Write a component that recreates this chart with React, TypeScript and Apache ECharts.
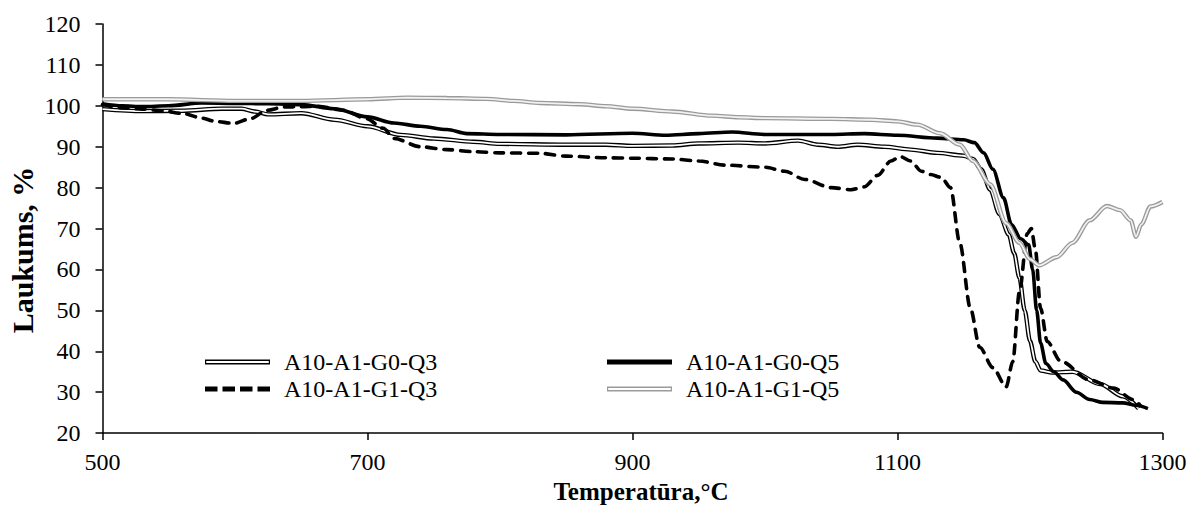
import React, { useEffect, useRef } from "react";
import * as echarts from "echarts";

const xTicks = [500, 700, 900, 1100, 1300];
const yTicks = [20, 30, 40, 50, 60, 70, 80, 90, 100, 110, 120];

const seriesNames = ["A10-A1-G0-Q3", "A10-A1-G0-Q5", "A10-A1-G1-Q3", "A10-A1-G1-Q5"];

const tG0Q3 = [500, 530, 560, 590, 605, 615, 625, 650, 675, 700, 725, 750, 780, 800, 850, 880, 900, 930, 950, 980, 1000, 1025, 1040, 1055, 1070, 1090, 1110, 1130, 1150, 1157, 1163, 1170, 1177, 1184, 1188, 1192, 1196, 1200, 1204, 1208, 1217, 1232, 1253, 1270, 1282];
const vG0Q3 = [99.2, 98.7, 98.8, 99.3, 99.3, 98.6, 97.9, 98.2, 96.6, 95.0, 92.9, 92.0, 91.2, 90.7, 90.5, 90.5, 90.2, 90.3, 90.8, 91.0, 90.8, 91.5, 90.5, 90.0, 90.5, 90.0, 89.3, 88.5, 87.8, 87.0, 84.5, 79.5, 73.5, 68.5, 64.0, 58.0, 50.0, 42.5, 37.5, 35.3, 34.8, 35.0, 32.0, 29.0, 26.0];

const tG0Q5 = [500, 515, 530, 550, 575, 600, 625, 650, 675, 700, 720, 740, 760, 775, 800, 850, 900, 925, 950, 975, 1000, 1050, 1075, 1100, 1130, 1150, 1158, 1165, 1172, 1180, 1186, 1193, 1199, 1202, 1205, 1208, 1212, 1218, 1225, 1235, 1245, 1255, 1270, 1280, 1289];
const vG0Q5 = [100.5, 100.0, 99.8, 100.0, 100.7, 100.6, 100.5, 100.3, 99.3, 97.3, 95.8, 95.0, 94.2, 93.2, 93.0, 92.9, 93.3, 92.8, 93.2, 93.6, 93.0, 93.0, 93.2, 92.8, 92.1, 91.7, 91.0, 88.5, 84.5, 77.5, 71.0, 67.5, 66.0, 60.0, 50.0, 42.0, 37.0, 35.0, 33.0, 30.0, 28.2, 27.5, 27.4, 26.8, 26.0];

const tG1Q3 = [500, 515, 530, 545, 561, 575, 585, 599, 612, 624, 637, 650, 662, 682, 699, 712, 720, 740, 760, 780, 800, 830, 850, 880, 900, 930, 950, 970, 1000, 1015, 1030, 1050, 1065, 1075, 1085, 1095, 1102, 1110, 1118, 1125, 1133, 1140, 1147, 1155, 1162, 1172, 1182, 1187, 1192, 1198, 1201, 1204, 1208, 1213, 1223, 1245, 1263, 1278, 1283];
const vG1Q3 = [100.3, 99.5, 99.2, 98.8, 98.1, 97.0, 96.2, 95.7, 96.9, 98.9, 99.7, 99.8, 99.9, 98.9, 96.9, 94.5, 92.0, 90.0, 89.3, 88.8, 88.5, 88.4, 87.7, 87.3, 87.2, 87.0, 86.5, 85.5, 85.0, 84.0, 82.0, 80.0, 79.5, 80.2, 83.0, 86.5, 87.6, 86.5, 84.0, 83.2, 82.5, 80.0, 66.5, 50.5, 41.0, 36.0, 31.3, 37.5, 54.5, 68.8, 70.0, 65.0, 50.5, 42.4, 37.6, 33.0, 31.0, 28.2, 26.8];

const tG1Q5 = [500, 550, 600, 650, 700, 730, 760, 790, 810, 830, 860, 880, 900, 930, 960, 980, 1000, 1050, 1080, 1100, 1115, 1132, 1147, 1157, 1170, 1182, 1192, 1200, 1207, 1220, 1232, 1245, 1258, 1268, 1276, 1280, 1284, 1291, 1300];
const vG1Q5 = [101.6, 101.6, 101.2, 101.2, 101.6, 102.0, 101.9, 101.7, 101.2, 100.7, 100.4, 99.9, 99.3, 98.6, 97.6, 97.2, 97.0, 96.8, 96.6, 96.2, 95.4, 93.3, 90.5, 86.5, 80.8, 71.3, 66.5, 62.5, 61.0, 63.0, 66.5, 72.0, 75.5, 74.5, 72.0, 68.0, 71.0, 75.4, 76.5];

const zip = (t: number[], v: number[]) => t.map((x, i) => [x, v[i]]);

const FONT = "'Liberation Serif', 'Times New Roman', serif";

const ICON_DOUBLE = "path://M0,0H65V5H0Z M1.2,1.5V3.5H63.8V1.5Z";
const ICON_SOLID = "path://M0,0H65V5H0Z";
const ICON_DASH = "path://M0,0H12.5V5H0Z M17.5,0H30V5H17.5Z M35,0H47.5V5H35Z M52.5,0H65V5H52.5Z";

export default function App() {
  const ref = useRef<HTMLDivElement>(null);
  useEffect(() => {
    if (!ref.current) return;
    const chart = echarts.init(ref.current, null, { renderer: "svg" });
    const base = { type: "line", showSymbol: false, symbol: "none", smooth: 0.3, smoothMonotone: "x", silent: true };
    const legendText = { fontFamily: FONT, fontSize: 24, color: "#000", lineHeight: 24, padding: [0, 0, 0, 9] };
    const li = (name: string, icon: string, color: string) => ({
      name, icon, itemStyle: { color, borderWidth: 0, borderColor: "rgba(0,0,0,0)" },
    });
    chart.setOption({
      animation: false,
      backgroundColor: "#fff",
      grid: { left: 102.5, right: 27.5, top: 24, bottom: 69 },
      xAxis: {
        type: "value", min: xTicks[0], max: xTicks[xTicks.length - 1], interval: 200,
        name: "Temperatūra,°C", nameLocation: "middle", nameGap: 45,
        nameTextStyle: { fontFamily: FONT, fontSize: 25, fontWeight: "bold", color: "#000", padding: [0, 0, 0, 17] },
        axisLine: { lineStyle: { color: "#000", width: 1.5 } },
        axisTick: { show: true, length: 7, lineStyle: { color: "#000", width: 1.5 } },
        axisLabel: { fontFamily: FONT, fontSize: 24, color: "#000", margin: 17, formatter: (v: number) => String(v) },
        splitLine: { show: false },
      },
      yAxis: {
        type: "value", min: yTicks[0], max: yTicks[yTicks.length - 1], interval: 10,
        axisLine: { show: true, lineStyle: { color: "#000", width: 1.5 } },
        axisTick: { show: true, length: 7, lineStyle: { color: "#000", width: 1.5 } },
        axisLabel: { fontFamily: FONT, fontSize: 24, color: "#000", margin: 22, formatter: (v: number) => String(v) },
        splitLine: { show: false },
      },
      legend: [
        {
          orient: "vertical", left: 205, top: 350, itemGap: 3, padding: 0,
          itemWidth: 65, itemHeight: 5, selectedMode: false, textStyle: legendText,
          data: [li(seriesNames[0], ICON_DOUBLE, "#000"), li(seriesNames[2], ICON_DASH, "#000")],
        },
        {
          orient: "vertical", left: 607, top: 350, itemGap: 3, padding: 0,
          itemWidth: 65, itemHeight: 5, selectedMode: false, textStyle: legendText,
          data: [li(seriesNames[1], ICON_SOLID, "#000"), li(seriesNames[3], ICON_DOUBLE, "#9a9a9a")],
        },
      ],
      graphic: [
        {
          type: "text", x: 22, y: 250, rotation: Math.PI / 2,
          style: { text: "Laukums, %", font: `bold 30px ${FONT}`, fill: "#000", align: "center", verticalAlign: "middle" },
        },
      ],
      series: [
        { ...base, name: seriesNames[0], data: zip(tG0Q3, vG0Q3), color: "#000", lineStyle: { color: "#000", width: 4.4 }, z: 2 },
        { ...base, name: seriesNames[0], data: zip(tG0Q3, vG0Q3), color: "#000", lineStyle: { color: "#fff", width: 1.8 }, z: 3 },
        { ...base, name: seriesNames[1], data: zip(tG0Q5, vG0Q5), color: "#000", lineStyle: { color: "#000", width: 3.6 }, z: 4 },
        { ...base, name: seriesNames[2], data: zip(tG1Q3, vG1Q3), color: "#000", lineStyle: { color: "#000", width: 3.6, type: [9, 8], cap: "round" }, z: 5 },
        { ...base, name: seriesNames[3], data: zip(tG1Q5, vG1Q5), color: "#9a9a9a", lineStyle: { color: "#9a9a9a", width: 4.4 }, z: 6 },
        { ...base, name: seriesNames[3], data: zip(tG1Q5, vG1Q5), color: "#9a9a9a", lineStyle: { color: "#f2f2f2", width: 1.8 }, z: 7 },
      ],
    });
    return () => chart.dispose();
  }, []);
  return <div ref={ref} style={{ position: "absolute", left: 0, top: 0, width: 1190, height: 509 }} />;
}
